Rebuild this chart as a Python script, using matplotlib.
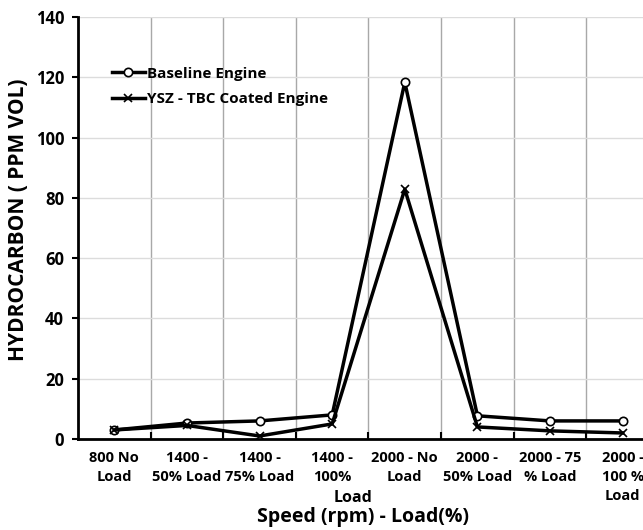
import numpy as np
import matplotlib.pyplot as plt
from matplotlib.ticker import FixedLocator

# =========================================
# Data
# =========================================

categories = [
    "800 No\nLoad",
    "1400 -\n50% Load",
    "1400 -\n75% Load",
    "1400 -\n100%",
    "2000 - No\nLoad",
    "2000 -\n50% Load",
    "2000 - 75\n% Load",
    "2000 -\n100 %\nLoad",
]

baseline = [3, 5.3, 6, 8, 118.4, 7.7, 6, 6]
ysz_tbc = [3, 4.5, 1, 5, 82.9, 4, 2.7, 2]

plt.rcParams["font.family"] = ["Open Sans", "DejaVu Sans"]
plt.rcParams["font.weight"] = "bold"

# =========================================
# Plot
# =========================================

fig = plt.figure(figsize=(6.43, 5.30), dpi=100)
ax = fig.add_axes([0.1213, 0.1717, 0.8787, 0.796])

x = np.arange(len(categories))

ax.plot(x, baseline, color="black", lw=2.5, marker="o", ms=6,
        mfc="white", mec="black", mew=1.2, label="Baseline Engine")
ax.plot(x, ysz_tbc, color="black", lw=2.5, marker="x", ms=6,
        mew=1.2, label="YSZ - TBC Coated Engine")

# =========================================
# Axes
# =========================================

ax.set_xlim(-0.5, 7.28)
ax.set_ylim(0, 140)
ax.set_yticks(range(0, 141, 20))

ax.set_xticks(x)
ax.set_xticklabels(categories, fontsize=10.5, fontweight="bold", linespacing=1.45)
ax.xaxis.set_minor_locator(FixedLocator(np.arange(0.5, 7.0, 1.0)))
ax.tick_params(axis="x", which="major", length=0, pad=9)
ax.tick_params(axis="x", which="minor", direction="in", length=5, width=1.5)
ax.tick_params(axis="y", direction="out", length=4, width=1.5, labelsize=12, pad=6)
for lbl in ax.get_yticklabels():
    lbl.set_fontweight("bold")

ax.spines["top"].set_visible(False)
ax.spines["right"].set_visible(False)
ax.spines["left"].set_linewidth(2)
ax.spines["bottom"].set_linewidth(2)

# =========================================
# Grid
# =========================================

ax.grid(True, axis="y", which="major", color="#dcdcdc", lw=1)
ax.grid(True, axis="x", which="minor", color="#a8a8a8", lw=1)
ax.set_axisbelow(True)

# =========================================
# Labels
# =========================================

fig.text(0.029, 0.585, "HYDROCARBON ( PPM VOL)", rotation=90, ha="center",
         va="center", fontsize=15, fontweight="bold")
fig.text(0.549, 0.060, "Load", ha="center", va="center", fontsize=11.5, fontweight="bold")
fig.text(0.565, 0.024, "Speed (rpm) - Load(%)", ha="center", va="center",
         fontsize=14, fontweight="bold")

# =========================================
# Legend
# =========================================

ax.legend(loc="upper left", bbox_to_anchor=(0.035, 0.915), frameon=False,
          handlelength=2.2, handletextpad=0.1, labelspacing=0.75,
          prop={"weight": "bold", "size": 11})

plt.savefig("out.png", dpi=100)
